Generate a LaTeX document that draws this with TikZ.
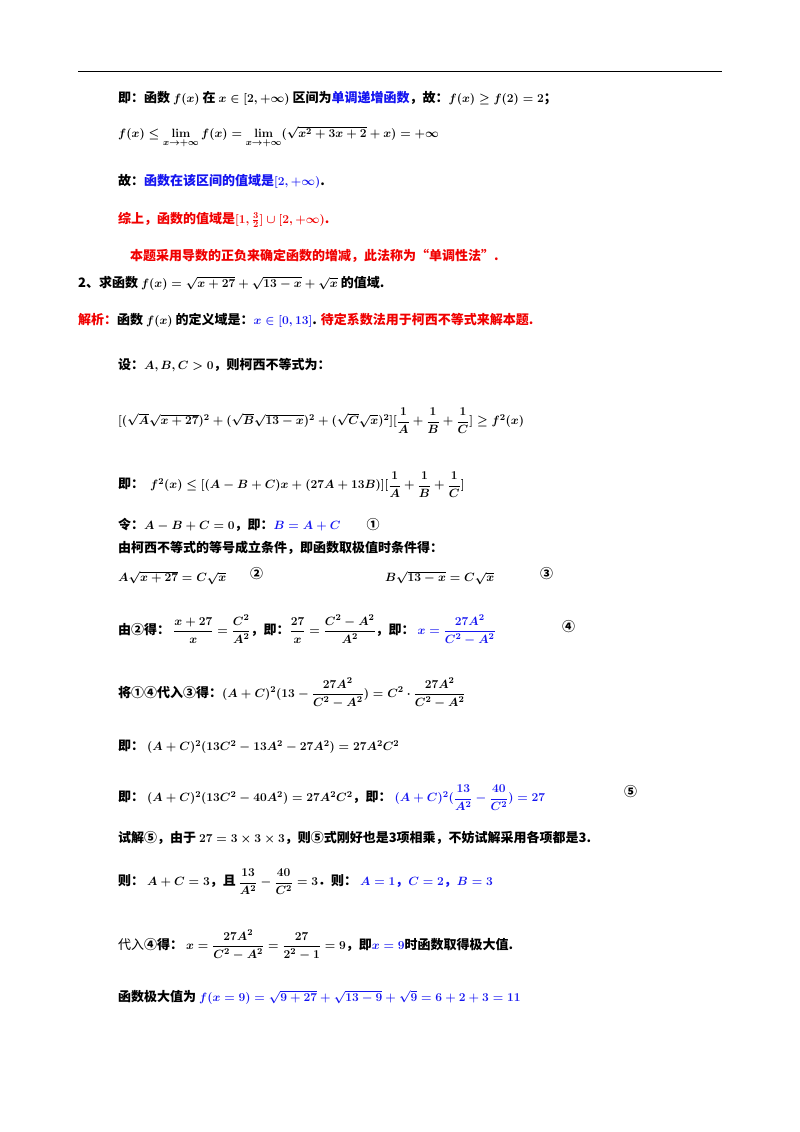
\documentclass[tikz,border=0pt]{standalone}
\usepackage{amsmath}
\usepackage[no-math]{fontspec}
\setmainfont{Noto Sans CJK SC}
\newfontfamily\cjkn{Noto Sans CJK SC}
\definecolor{bl}{RGB}{20,20,240}
\definecolor{rd}{RGB}{240,0,0}
\begin{document}
\boldmath
\begin{tikzpicture}[x=1pt,y=-1pt,
  t/.style={anchor=west,inner sep=0pt,font=\fontsize{13}{15}\selectfont\bfseries}]
\useasboundingbox (0,0) rectangle (800,1132);
\draw[line width=1pt] (78,72) -- (722,72);
\node[t] (l1) at (118,98) {即：函数 $f(x)$ 在 $x\in[2,+\infty)$ 区间为\textcolor{bl}{单调递增函数}，故：$f(x)\ge f(2)=2$；};
\node[t] (l2) at (118,137) {$f(x)\le \lim\limits_{x\to+\infty}f(x)=\lim\limits_{x\to+\infty}(\sqrt{x^2+3x+2}+x)=+\infty$};
\node[t] (l3) at (118,181) {故：\textcolor{bl}{函数在该区间的值域是$[2,+\infty)$}.};
\node[t,text=rd] (l4) at (118,220) {综上，函数的值域是$[1,\frac{3}{2}]\cup[2,+\infty)$.};
\node[t,text=rd] (l5) at (130,256) {本题采用导数的正负来确定函数的增减，此法称为“单调性法”.};
\node[t] (l6) at (78,283) {2、求函数 $f(x)=\sqrt{x+27}+\sqrt{13-x}+\sqrt{x}$ 的值域.};
\node[t] (l7) at (78,320) {\textcolor{rd}{解析：}函数 $f(x)$ 的定义域是：\textcolor{bl}{$x\in[0,13]$}. \textcolor{rd}{待定系数法用于柯西不等式来解本题.}};
\node[t] (l8) at (118,365) {设：$A,B,C>0$，则柯西不等式为：};
\node[t] (l9) at (118,421) {$[(\sqrt{A}\sqrt{x+27})^2+(\sqrt{B}\sqrt{13-x})^2+(\sqrt{C}\sqrt{x})^2][\dfrac{1}{A}+\dfrac{1}{B}+\dfrac{1}{C}]\ge f^2(x)$};
\node[t] (l10) at (118,485) {即：\ \ $f^2(x)\le[(A-B+C)x+(27A+13B)][\dfrac{1}{A}+\dfrac{1}{B}+\dfrac{1}{C}]$};
\node[t] (l11) at (118,525) {令：$A-B+C=0$，即：\textcolor{bl}{$B=A+C$}\qquad ①};
\node[t] (l12) at (118,548) {由柯西不等式的等号成立条件，即函数取极值时条件得：};
\node[t] (l13a) at (118,578) {$A\sqrt{x+27}=C\sqrt{x}$};
\node[t] (c2) at (250,574) {②};
\node[t] (l13b) at (385,578) {$B\sqrt{13-x}=C\sqrt{x}$};
\node[t] (c3) at (540,574) {③};
\node[t] (l14) at (118,630) {由②得：\ $\dfrac{x+27}{x}=\dfrac{C^2}{A^2}$，即：$\dfrac{27}{x}=\dfrac{C^2-A^2}{A^2}$，即：\ \textcolor{bl}{$x=\dfrac{27A^2}{C^2-A^2}$}};
\node[t] (c4) at (562,627) {④};
\node[t] (l15) at (118,693) {将①④代入③得：$(A+C)^2(13-\dfrac{27A^2}{C^2-A^2})=C^2\cdot\dfrac{27A^2}{C^2-A^2}$};
\node[t] (l16) at (118,747) {即：\ $(A+C)^2(13C^2-13A^2-27A^2)=27A^2C^2$};
\node[t] (l17) at (118,798) {即：\ $(A+C)^2(13C^2-40A^2)=27A^2C^2$，即：\ \textcolor{bl}{$(A+C)^2(\dfrac{13}{A^2}-\dfrac{40}{C^2})=27$}};
\node[t] (c5) at (624,792) {⑤};
\node[t] (l18) at (118,838) {试解⑤，由于 $27=3\times3\times3$，则⑤式刚好也是3项相乘，不妨试解采用各项都是3.};
\node[t] (l19) at (118,882) {则：\ $A+C=3$，且 $\dfrac{13}{A^2}-\dfrac{40}{C^2}=3$．则：\ \textcolor{bl}{$A=1$，$C=2$，$B=3$}};
\node[t] (l20) at (118,945) {{\mdseries\cjkn 代入}④得：\ $x=\dfrac{27A^2}{C^2-A^2}=\dfrac{27}{2^2-1}=9$，即\textcolor{bl}{$x=9$}时函数取得极大值.};
\node[t] (l21) at (118,997) {函数极大值为\ \textcolor{bl}{$f(x=9)=\sqrt{9+27}+\sqrt{13-9}+\sqrt{9}=6+2+3=11$}};
\end{tikzpicture}
\end{document}
